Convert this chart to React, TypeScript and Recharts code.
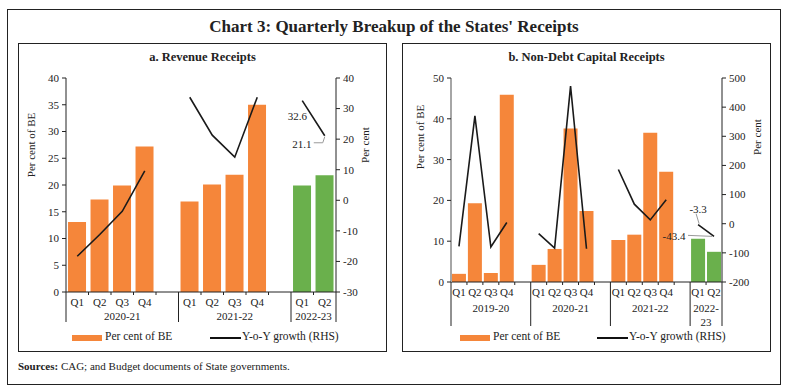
// @ts-nocheck
import React from 'react';
import { ComposedChart, Bar, Line, XAxis, YAxis, Cell, LabelList } from 'recharts';

const FONT = '"Liberation Serif", "DejaVu Serif", serif';
const ORANGE = '#F5863A';
const GREEN = '#6AB04C';
const INK = '#222';

// a. Revenue Receipts
const revQuarters = ['Q1', 'Q2', 'Q3', 'Q4', '', 'Q1', 'Q2', 'Q3', 'Q4', '', 'Q1', 'Q2'];
const revShare = [13.1, 17.3, 19.9, 27.2, null, 16.9, 20.1, 21.9, 35.0, null, 19.9, 21.8];
const revGrowth = [-18.3, -11.2, -3.6, 9.6, null, 33.7, 21.3, 14.1, 33.7, null, 32.6, 21.1];
const revYears = [['2020-21', 5], ['2021-22', 5], ['2022-23', 2]];
const revLeftTicks = [0, 5, 10, 15, 20, 25, 30, 35, 40];
const revRightTicks = [-30, -20, -10, 0, 10, 20, 30, 40];

// b. Non-Debt Capital Receipts
const capQuarters = ['Q1', 'Q2', 'Q3', 'Q4', '', 'Q1', 'Q2', 'Q3', 'Q4', '', 'Q1', 'Q2', 'Q3', 'Q4', '', 'Q1', 'Q2'];
const capShare = [2.0, 19.3, 2.2, 45.9, null, 4.2, 8.1, 37.6, 17.4, null, 10.3, 11.6, 36.6, 27.0, null, 10.6, 7.4];
const capGrowth = [-78, 370, -80, 4, null, -34, -84, 472, -86, null, 186, 67, 13, 82, null, -3.3, -43.4];
const capYears = [['2019-20', 5], ['2020-21', 5], ['2021-22', 5], ['2022-\n23', 2]];
const capLeftTicks = [0, 10, 20, 30, 40, 50];
const capRightTicks = [-200, -100, 0, 100, 200, 300, 400, 500];

const buildRows = (quarters, share, growth, greenFrom) =>
  quarters.map((q, i) => ({ q, share: share[i], growth: growth[i], green: i >= greenFrom }));

const revRows = buildRows(revQuarters, revShare, revGrowth, 10);
const capRows = buildRows(capQuarters, capShare, capGrowth, 15);

// x-axis tick: quarter label, short ticks between categories, separators + year labels per group
const makeTick = (groups, bw, sepLen, yearDy) => (props) => {
  const { x, y, index, payload } = props;
  const half = bw / 2;
  let start = 0;
  let group = null;
  let last = 0;
  groups.forEach(([label, len]) => {
    if (index === start) group = { label, len };
    start += len;
    last = start - 1;
  });
  const lines = group ? group.label.split('\n') : [];
  return (
    <g>
      <text x={x} y={y + 14} textAnchor="middle" fontSize={11} fill={INK} fontFamily={FONT}>
        {payload.value}
      </text>
      {group ? (
        <line x1={x - half} x2={x - half} y1={y} y2={y + sepLen} stroke={INK} strokeWidth={1} />
      ) : (
        <line x1={x - half} x2={x - half} y1={y} y2={y + 3} stroke={INK} strokeWidth={1} />
      )}
      {index === last && (
        <line x1={x + half} x2={x + half} y1={y} y2={y + sepLen} stroke={INK} strokeWidth={1} />
      )}
      {lines.map((t, k) => (
        <text
          key={k}
          x={x - half + (group.len * bw) / 2}
          y={y + yearDy + k * 14}
          textAnchor="middle"
          fontSize={11}
          fill={INK}
          fontFamily={FONT}
        >
          {t}
        </text>
      ))}
    </g>
  );
};

const revLabel = (props) => {
  const { x, y, index, value } = props;
  if (index === 10) {
    return (
      <text x={x - 5} y={y + 19} textAnchor="middle" fontSize={11} fill={INK} fontFamily={FONT}>
        {value}
      </text>
    );
  }
  if (index === 11) {
    return (
      <g>
        <polyline points={`${x - 11},${y + 7} ${x - 2},${y + 7} ${x},${y + 1}`} fill="none" stroke="#999" strokeWidth={1} />
        <text x={x - 23} y={y + 12} textAnchor="middle" fontSize={11} fill={INK} fontFamily={FONT}>
          {value}
        </text>
      </g>
    );
  }
  return null;
};

const capLabel = (props) => {
  const { x, y, index, value } = props;
  if (index === 15) {
    return (
      <g>
        <line x1={x - 2} y1={y - 11} x2={x + 1} y2={y - 1} stroke="#999" strokeWidth={1} />
        <text x={x} y={y - 12} textAnchor="middle" fontSize={11} fill={INK} fontFamily={FONT}>
          {value}
        </text>
      </g>
    );
  }
  if (index === 16) {
    return (
      <g>
        <line x1={x - 26} y1={y - 1} x2={x - 2} y2={y} stroke="#999" strokeWidth={1} />
        <text x={x - 40} y={y + 4} textAnchor="middle" fontSize={11} fill={INK} fontFamily={FONT}>
          {value}
        </text>
      </g>
    );
  }
  return null;
};

const tickStyle = { fontSize: 11, fill: INK, fontFamily: FONT };

const Panel = ({ left, title, rows, leftTicks, rightTicks, years, bw, sepLen, yearDy, bottom, yl, yr, leftAxisColor, leftAxisWidth, gap, labelFn, legendX, lblY }) => (
  <>
    <div style={{ position: 'absolute', left, top: 43, width: 369, height: 309, border: `1px solid ${INK}`, boxSizing: 'border-box' }} />
    <div style={{ position: 'absolute', left, top: 50, width: 369, textAlign: 'center', fontWeight: 'bold', fontSize: 12.5, color: INK }}>
      {title}
    </div>
    <div style={{ position: 'absolute', left, top: 43 }}>
      <ComposedChart
        width={369}
        height={309}
        data={rows}
        margin={{ top: 35, right: 0, left: 0, bottom }}
        barCategoryGap={gap}
      >
        <XAxis
          dataKey="q"
          xAxisId={0}
          interval={0}
          height={32}
          tickSize={0}
          tickMargin={0}
          tickLine={false}
          axisLine={{ stroke: INK }}
          tick={makeTick(years, bw, sepLen, yearDy)}
        />
        <YAxis
          yAxisId="left"
          width={yl}
          domain={[leftTicks[0], leftTicks[leftTicks.length - 1]]}
          ticks={leftTicks}
          interval={0}
          tickSize={4}
          tickMargin={3}
          tick={tickStyle}
          tickLine={{ stroke: INK }}
          axisLine={{ stroke: leftAxisColor, strokeWidth: leftAxisWidth }}
        />
        <YAxis
          yAxisId="right"
          orientation="right"
          width={yr}
          domain={[rightTicks[0], rightTicks[rightTicks.length - 1]]}
          ticks={rightTicks}
          interval={0}
          tickSize={4}
          tickMargin={3}
          tick={tickStyle}
          tickLine={{ stroke: INK }}
          axisLine={{ stroke: INK }}
        />
        <Bar yAxisId="left" dataKey="share" fill={ORANGE} isAnimationActive={false}>
          {rows.map((r, i) => (
            <Cell key={i} fill={r.green ? GREEN : ORANGE} />
          ))}
        </Bar>
        <Line
          yAxisId="right"
          dataKey="growth"
          stroke="#1a1a1a"
          strokeWidth={1.6}
          dot={false}
          connectNulls={false}
          isAnimationActive={false}
        >
          <LabelList dataKey="growth" content={labelFn} />
        </Line>
      </ComposedChart>
    </div>
    <div style={{ position: 'absolute', left: left + lblY[0] - 50, top: lblY[2] - 8, width: 100, height: 16, textAlign: 'center', fontSize: 11, color: INK, transform: 'rotate(-90deg)' }}>
      Per cent of BE
    </div>
    <div style={{ position: 'absolute', left: left + lblY[1] - 50, top: lblY[2] - 8, width: 100, height: 16, textAlign: 'center', fontSize: 11, color: INK, transform: 'rotate(-90deg)' }}>
      Per cent
    </div>
    <div style={{ position: 'absolute', left: legendX[0], top: 335, width: 30, height: 6, background: ORANGE }} />
    <div style={{ position: 'absolute', left: legendX[0] + 33, top: 330, fontSize: 11.5, color: INK, whiteSpace: 'nowrap' }}>
      Per cent of BE
    </div>
    <div style={{ position: 'absolute', left: legendX[1], top: 337, width: 31, height: 2, background: '#111' }} />
    <div style={{ position: 'absolute', left: legendX[1] + 32, top: 330, fontSize: 11.5, color: INK, whiteSpace: 'nowrap' }}>
      Y-o-Y growth (RHS)
    </div>
  </>
);

export default function App() {
  return (
    <div style={{ position: 'absolute', left: 0, top: 0, width: 788, height: 392, background: '#fff', fontFamily: FONT }}>
      <div style={{ position: 'absolute', left: 7, top: 9, width: 774, height: 376, border: `1px solid ${INK}`, boxSizing: 'border-box' }} />
      <div style={{ position: 'absolute', left: 0, top: 17, width: 788, textAlign: 'center', fontWeight: 'bold', fontSize: 17, color: INK }}>
        Chart 3: Quarterly Breakup of the States' Receipts
      </div>
      <Panel
        left={18}
        title="a. Revenue Receipts"
        rows={revRows}
        leftTicks={revLeftTicks}
        rightTicks={revRightTicks}
        years={revYears}
        bw={270 / 12}
        sepLen={30}
        yearDy={28}
        bottom={28}
        yl={48}
        yr={51}
        leftAxisColor={INK}
        leftAxisWidth={1}
        gap="9%"
        labelFn={revLabel}
        legendX={[72, 210]}
        lblY={[15, 349, 145]}
      />
      <Panel
        left={402}
        title="b. Non-Debt Capital Receipts"
        rows={capRows}
        leftTicks={capLeftTicks}
        rightTicks={capRightTicks}
        years={capYears}
        bw={271 / 17}
        sepLen={44}
        yearDy={30}
        bottom={38}
        yl={49}
        yr={49}
        leftAxisColor="#a6a6a6"
        leftAxisWidth={2}
        gap="6%"
        labelFn={capLabel}
        legendX={[460, 597]}
        lblY={[20, 357, 137]}
      />
      <div style={{ position: 'absolute', left: 18, top: 360, fontSize: 11, color: INK }}>
        <b>Sources:</b> CAG; and Budget documents of State governments.
      </div>
    </div>
  );
}
